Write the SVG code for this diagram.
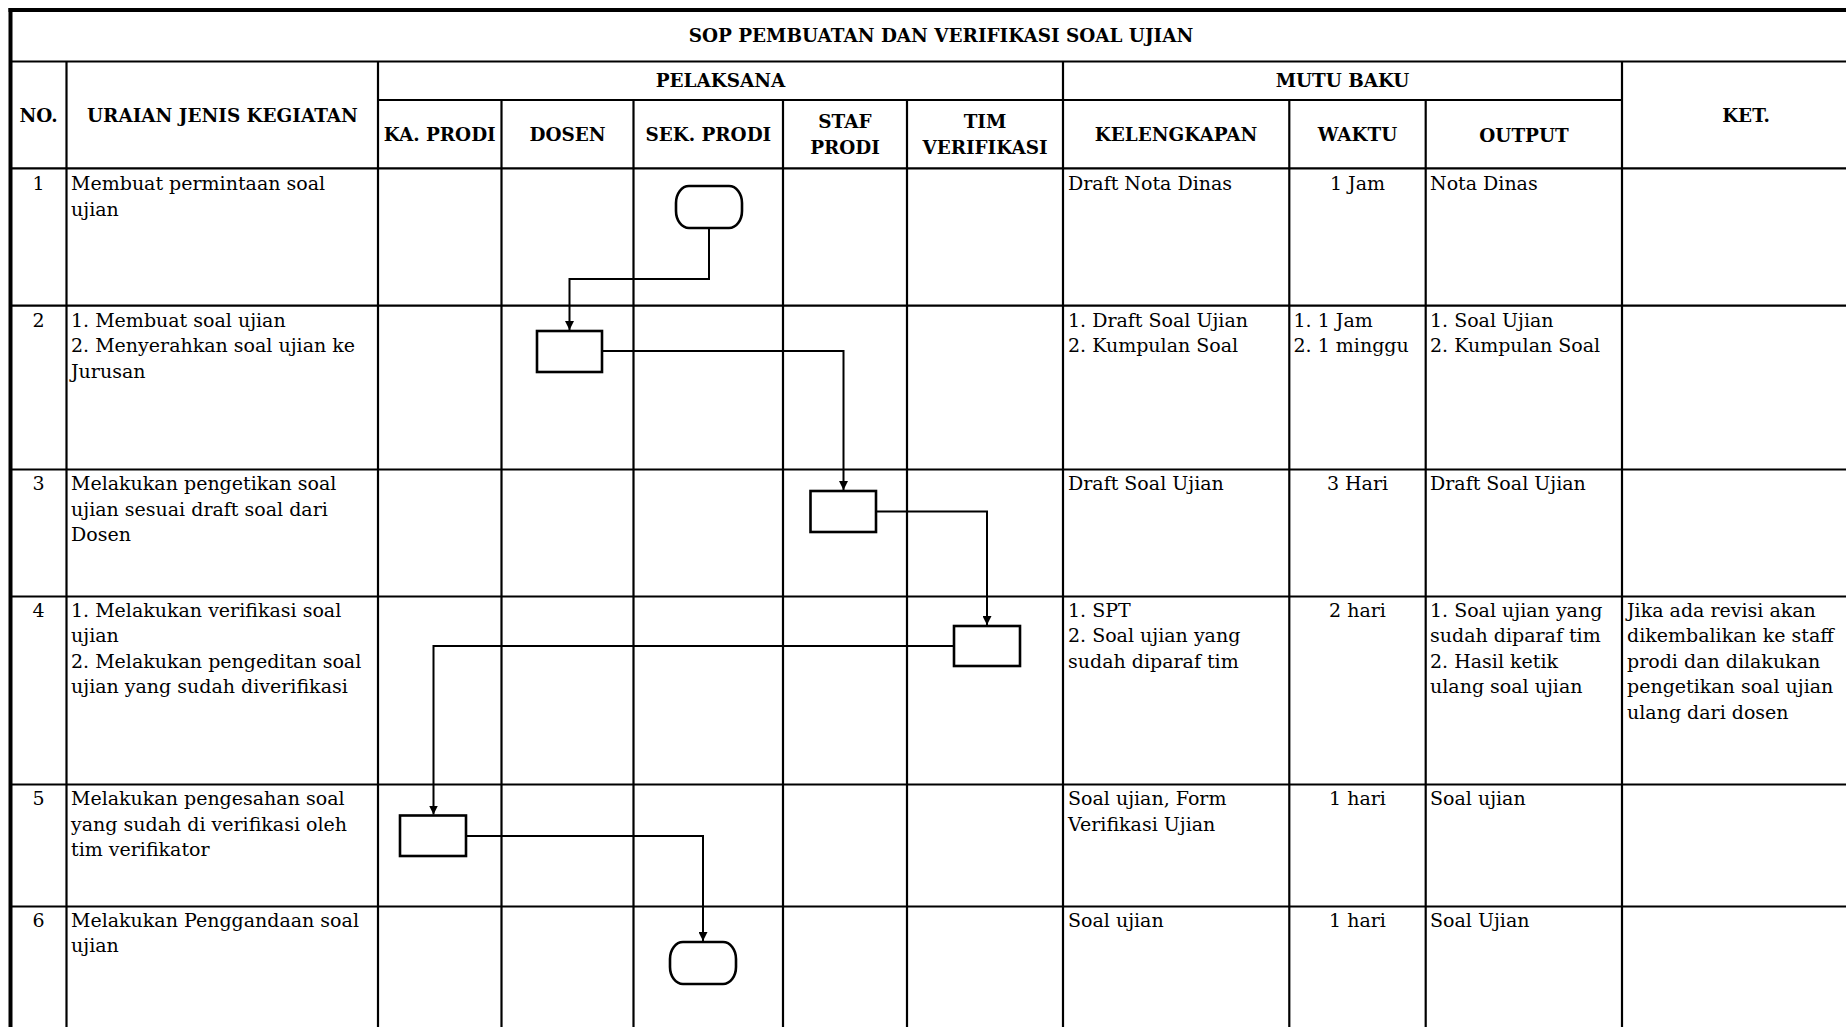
<svg xmlns="http://www.w3.org/2000/svg" width="1846" height="1027" viewBox="0 0 1846 1027">
<style>
.t{font-family:"DejaVu Serif","Liberation Serif",serif;font-size:19px;fill:#000}
.h{font-family:"DejaVu Serif","Liberation Serif",serif;font-size:18.4px;font-weight:bold;fill:#000;text-anchor:middle}
.c{text-anchor:middle}
.g line{stroke:#000;stroke-width:2.2}
.g line.b{stroke-width:4}
.node{fill:#fff;stroke:#000;stroke-width:2.6}
.conn path{fill:none;stroke:#000;stroke-width:2}
</style>
<defs>
<marker id="arr" markerUnits="userSpaceOnUse" markerWidth="10" markerHeight="9" refX="9" refY="4.5" orient="auto">
<path d="M0,0 L9,4.5 L0,9 Z" fill="#000"/>
</marker>
</defs>
<rect x="0" y="0" width="1846" height="1027" fill="#fff"/>
<g id="grid" class="g">
<line class="b" x1="8.5" y1="10" x2="1870" y2="10"/>
<line class="b" x1="10.5" y1="8" x2="10.5" y2="1027"/>
<line x1="10" y1="61.5" x2="1870" y2="61.5"/>
<line x1="378" y1="100" x2="1622" y2="100"/>
<line x1="10" y1="168.3" x2="1870" y2="168.3"/>
<line x1="10" y1="305.7" x2="1870" y2="305.7"/>
<line x1="10" y1="469.5" x2="1870" y2="469.5"/>
<line x1="10" y1="596.5" x2="1870" y2="596.5"/>
<line x1="10" y1="784.5" x2="1870" y2="784.5"/>
<line x1="10" y1="906.5" x2="1870" y2="906.5"/>
<line x1="66.5" y1="61.5" x2="66.5" y2="1027"/>
<line x1="378" y1="61.5" x2="378" y2="1027"/>
<line x1="501.5" y1="100" x2="501.5" y2="1027"/>
<line x1="633.5" y1="100" x2="633.5" y2="1027"/>
<line x1="783" y1="100" x2="783" y2="1027"/>
<line x1="907" y1="100" x2="907" y2="1027"/>
<line x1="1063" y1="61.5" x2="1063" y2="1027"/>
<line x1="1289.3" y1="100" x2="1289.3" y2="1027"/>
<line x1="1425.7" y1="100" x2="1425.7" y2="1027"/>
<line x1="1622" y1="61.5" x2="1622" y2="1027"/>
</g>
<g id="headers">
<text class="h" x="941" y="41.5">SOP PEMBUATAN DAN VERIFIKASI SOAL UJIAN</text>
<text class="h" x="38.5" y="122">NO.</text>
<text class="h" x="222.5" y="122">URAIAN JENIS KEGIATAN</text>
<text class="h" x="720.5" y="87.3">PELAKSANA</text>
<text class="h" x="1342.5" y="87.3">MUTU BAKU</text>
<text class="h" x="1746" y="122">KET.</text>
<text class="h" x="439.7" y="140.5">KA. PRODI</text>
<text class="h" x="567.5" y="140.5">DOSEN</text>
<text class="h" x="708.3" y="140.5">SEK. PRODI</text>
<text class="h" x="845" y="128.3">STAF</text>
<text class="h" x="845" y="154.3">PRODI</text>
<text class="h" x="985" y="128.3">TIM</text>
<text class="h" x="985" y="154.3">VERIFIKASI</text>
<text class="h" x="1176" y="140.5">KELENGKAPAN</text>
<text class="h" x="1357.5" y="140.5">WAKTU</text>
<text class="h" x="1524" y="141.5">OUTPUT</text>
</g>
<g id="row1" class="t">
<text class="t c" x="38.5" y="190">1</text>
<text class="t" x="71" y="190"><tspan x="71">Membuat permintaan soal</tspan><tspan x="71" dy="25.5">ujian</tspan></text>
<text class="t" x="1068" y="190">Draft Nota Dinas</text>
<text class="t c" x="1357.5" y="190">1 Jam</text>
<text class="t" x="1430" y="190">Nota Dinas</text>
</g>
<g id="row2">
<text class="t c" x="38.5" y="326.7">2</text>
<text class="t" x="71" y="326.7"><tspan x="71">1. Membuat soal ujian</tspan><tspan x="71" dy="25.5">2. Menyerahkan soal ujian ke</tspan><tspan x="71" dy="25.5">Jurusan</tspan></text>
<text class="t" x="1068" y="326.7"><tspan x="1068">1. Draft Soal Ujian</tspan><tspan x="1068" dy="25.5">2. Kumpulan Soal</tspan></text>
<text class="t" x="1293.5" y="326.7"><tspan x="1293.5">1. 1 Jam</tspan><tspan x="1293.5" dy="25.5">2. 1 minggu</tspan></text>
<text class="t" x="1430" y="326.7"><tspan x="1430">1. Soal Ujian</tspan><tspan x="1430" dy="25.5">2. Kumpulan Soal</tspan></text>
</g>
<g id="row3">
<text class="t c" x="38.5" y="490">3</text>
<text class="t" x="71" y="490"><tspan x="71">Melakukan pengetikan soal</tspan><tspan x="71" dy="25.5">ujian sesuai draft soal dari</tspan><tspan x="71" dy="25.5">Dosen</tspan></text>
<text class="t" x="1068" y="490">Draft Soal Ujian</text>
<text class="t c" x="1357.5" y="490">3 Hari</text>
<text class="t" x="1430" y="490">Draft Soal Ujian</text>
</g>
<g id="row4">
<text class="t c" x="38.5" y="616.7">4</text>
<text class="t" x="71" y="616.7"><tspan x="71">1. Melakukan verifikasi soal</tspan><tspan x="71" dy="25.5">ujian</tspan><tspan x="71" dy="25.5">2. Melakukan pengeditan soal</tspan><tspan x="71" dy="25.5">ujian yang sudah diverifikasi</tspan></text>
<text class="t" x="1068" y="616.7"><tspan x="1068">1. SPT</tspan><tspan x="1068" dy="25.5">2. Soal ujian yang</tspan><tspan x="1068" dy="25.5">sudah diparaf tim</tspan></text>
<text class="t c" x="1357.5" y="616.7">2 hari</text>
<text class="t" x="1430" y="616.7"><tspan x="1430">1. Soal ujian yang</tspan><tspan x="1430" dy="25.5">sudah diparaf tim</tspan><tspan x="1430" dy="25.5">2. Hasil ketik</tspan><tspan x="1430" dy="25.5">ulang soal ujian</tspan></text>
<text class="t" x="1627" y="616.7"><tspan x="1627">Jika ada revisi akan</tspan><tspan x="1627" dy="25.5">dikembalikan ke staff</tspan><tspan x="1627" dy="25.5">prodi dan dilakukan</tspan><tspan x="1627" dy="25.5">pengetikan soal ujian</tspan><tspan x="1627" dy="25.5">ulang dari dosen</tspan></text>
</g>
<g id="row5">
<text class="t c" x="38.5" y="805">5</text>
<text class="t" x="71" y="805"><tspan x="71">Melakukan pengesahan soal</tspan><tspan x="71" dy="25.5">yang sudah di verifikasi oleh</tspan><tspan x="71" dy="25.5">tim verifikator</tspan></text>
<text class="t" x="1068" y="805"><tspan x="1068">Soal ujian, Form</tspan><tspan x="1068" dy="25.5">Verifikasi Ujian</tspan></text>
<text class="t c" x="1357.5" y="805">1 hari</text>
<text class="t" x="1430" y="805">Soal ujian</text>
</g>
<g id="row6">
<text class="t c" x="38.5" y="926.7">6</text>
<text class="t" x="71" y="926.7"><tspan x="71">Melakukan Penggandaan soal</tspan><tspan x="71" dy="25.5">ujian</tspan></text>
<text class="t" x="1068" y="926.7">Soal ujian</text>
<text class="t c" x="1357.5" y="926.7">1 hari</text>
<text class="t" x="1430" y="926.7">Soal Ujian</text>
</g>
<g id="connectors" class="conn">
<path d="M709,228 V279 H569.5 V330" marker-end="url(#arr)"/>
<path d="M602,351 H843.5 V490" marker-end="url(#arr)"/>
<path d="M876,511.5 H987 V625" marker-end="url(#arr)"/>
<path d="M954,646 H433.5 V814.5" marker-end="url(#arr)"/>
<path d="M466,836 H703 V941" marker-end="url(#arr)"/>
</g>
<g id="start"><rect class="node" x="676" y="186" width="66" height="42" rx="13" ry="17"/></g>
<g id="step2"><rect class="node" x="537" y="331" width="65" height="41"/></g>
<g id="step3"><rect class="node" x="810.5" y="491" width="65.5" height="41"/></g>
<g id="step4"><rect class="node" x="954" y="626" width="66" height="40"/></g>
<g id="step5"><rect class="node" x="400" y="815.5" width="66" height="40.5"/></g>
<g id="end"><rect class="node" x="670" y="942" width="66" height="42" rx="13" ry="17"/></g>
</svg>
